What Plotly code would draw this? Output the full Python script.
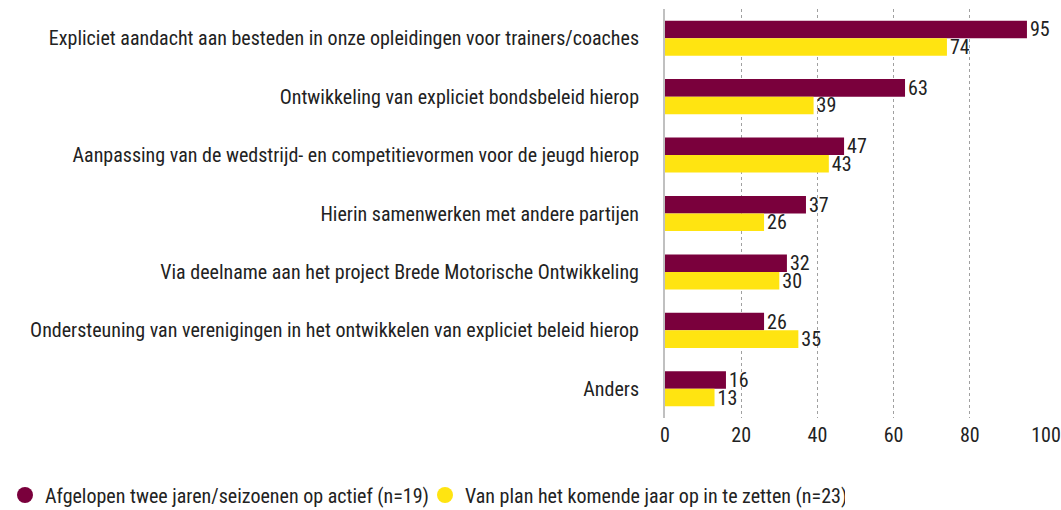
import plotly.graph_objects as go

categories = [
    "Expliciet aandacht aan besteden in onze opleidingen voor trainers/coaches",
    "Ontwikkeling van expliciet bondsbeleid hierop",
    "Aanpassing van de wedstrijd- en competitievormen voor de jeugd hierop",
    "Hierin samenwerken met andere partijen",
    "Via deelname aan het project Brede Motorische Ontwikkeling",
    "Ondersteuning van verenigingen in het ontwikkelen van expliciet beleid hierop",
    "Anders",
]
series1_name = "Afgelopen twee jaren/seizoenen op actief (n=19)"
series1 = [95, 63, 47, 37, 32, 26, 16]
series2_name = "Van plan het komende jaar op in te zetten (n=23)"
series2 = [74, 39, 43, 26, 30, 35, 13]
x_ticks = [0, 20, 40, 60, 80, 100]

c1 = "#7A003C"
c2 = "#FFE411"
FONT = "Roboto Condensed, Liberation Sans Narrow, Arial Narrow, sans-serif"
FS = 20
TXT = "#222222"

L, R, T, B = 665, 15, 9, 92
W, H = 1061, 510
pw = W - L - R
ph = H - T - B

fig = go.Figure()
fig.add_trace(go.Bar(y=categories, x=series1, orientation="h", name=series1_name,
                     marker=dict(color=c1, line=dict(width=0)), text=series1,
                     textposition="outside", cliponaxis=False, showlegend=False,
                     constraintext="none",
                     textfont=dict(size=FS, color=TXT, family=FONT)))
fig.add_trace(go.Bar(y=categories, x=series2, orientation="h", name=series2_name,
                     marker=dict(color=c2, line=dict(width=0)), text=series2,
                     textposition="outside", cliponaxis=False, showlegend=False,
                     constraintext="none",
                     textfont=dict(size=FS, color=TXT, family=FONT)))
for nm, col in [(series1_name, c1), (series2_name, c2)]:
    fig.add_trace(go.Scatter(x=[None], y=[None], mode="markers", name=nm,
                             marker=dict(symbol="circle", size=19, color=col)))

fig.update_layout(
    width=W, height=H,
    margin=dict(l=L, r=R, t=T, b=B, autoexpand=False),
    barmode="group", bargap=0.4, bargroupgap=0,
    plot_bgcolor="white", paper_bgcolor="white",
    font=dict(family=FONT, size=FS, color=TXT),
    xaxis=dict(range=[0, 100], tickvals=x_ticks, showgrid=True, gridcolor="#A0A0A0",
               griddash="dot", gridwidth=1, zeroline=False, showline=False,
               ticks="", automargin=False, ticklabelstandoff=3,
               tickfont=dict(size=FS, color=TXT)),
    yaxis=dict(autorange="reversed", showline=True, linecolor="#C0C0C0", linewidth=2,
               ticks="", automargin=False, ticklabelstandoff=20,
               tickfont=dict(size=FS, color=TXT)),
    legend=dict(orientation="h", x=(5 - L) / pw, xanchor="left",
                y=(H - B - 495) / ph, yanchor="middle",
                font=dict(size=FS, color=TXT, family=FONT), itemsizing="trace",
                traceorder="normal", itemwidth=30, entrywidth=375,
                entrywidthmode="pixels", bgcolor="rgba(0,0,0,0)"),
    showlegend=True,
)
fig.write_html("out.html", config={"displayModeBar": False},
               post_script="document.body.style.margin='0';document.body.style.overflow='hidden';")
